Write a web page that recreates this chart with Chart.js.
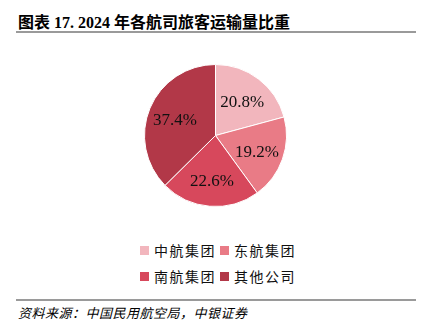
<!DOCTYPE html>
<html>
<head>
<meta charset="utf-8">
<script src="https://cdn.jsdelivr.net/npm/chart.js@4"></script>
<style>
    body { margin: 0; width: 421px; height: 334px; background: #fff; position: relative; overflow: hidden; }
    .title { position: absolute; left: 18px; top: 9px; font: bold 16px "Liberation Serif", "Noto Sans CJK SC", serif; color: #000; white-space: nowrap; }
    .rule { position: absolute; left: 16px; width: 400px; height: 2px; background: #9a9a9a; }
    .source { position: absolute; left: 18px; top: 303px; font: italic 13px "Liberation Serif", "Noto Sans CJK SC", serif; color: #000; letter-spacing: 0.5px; }
    #pieWrap { position: absolute; left: 144px; top: 64px; width: 143px; height: 143px; }
    .legend { position: absolute; left: 140px; top: 237px; font: 14px "Noto Sans CJK SC", serif; color: #111; letter-spacing: 1.5px; }
    .legend-row { height: 26px; display: flex; align-items: center; }
    .legend-item { display: flex; align-items: center; width: 80px; }
    .legend-box { width: 9px; height: 9px; margin-right: 5px; }
</style>
</head>
<body>
<div class="title">图表 17. 2024 年各航司旅客运输量比重</div>
<div class="rule" style="top: 31px;"></div>
<div id="pieWrap"><canvas id="shareChart"></canvas></div>
<div class="legend" id="legend"></div>
<div class="rule" style="top: 299px;"></div>
<div class="source">资料来源：中国民用航空局，中银证券</div>

<script>
const airlines = ['中航集团', '东航集团', '南航集团', '其他公司'];
const shares = [20.8, 19.2, 22.6, 37.4];
const sliceColors = ['#f2b6bd', '#e97b86', '#d7485c', '#b23848'];

// --- HTML legend, two items per row ---
function buildLegend() {
    const box = document.getElementById('legend');
    for (let i = 0; i < airlines.length; i += 2) {
        const row = document.createElement('div');
        row.className = 'legend-row';
        [i, i + 1].forEach(j => {
            if (j >= airlines.length) return;
            row.innerHTML += `<div class="legend-item"><span class="legend-box" style="background:${sliceColors[j]}"></span>${airlines[j]}</div>`;
        });
        box.appendChild(row);
    }
}

// Percent labels inside each slice
const sliceLabels = {
    id: 'sliceLabels',
    afterDatasetsDraw(chart) {
        const ctx = chart.ctx;
        const meta = chart.getDatasetMeta(0);
        ctx.save();
        ctx.font = '17px "Liberation Serif", serif';
        ctx.fillStyle = '#111';
        ctx.textAlign = 'center';
        ctx.textBaseline = 'middle';
        meta.data.forEach((arc, i) => {
            const mid = (arc.startAngle + arc.endAngle) / 2;
            const r = arc.outerRadius * 0.62;
            ctx.fillText(shares[i].toFixed(1) + '%', arc.x + Math.cos(mid) * r, arc.y + Math.sin(mid) * r + 2);
        });
        ctx.restore();
    }
};

buildLegend();

new Chart(document.getElementById('shareChart'), {
    type: 'pie',
    data: {
        labels: airlines,
        datasets: [{
            data: shares,
            backgroundColor: sliceColors,
            borderColor: '#ffffff',
            borderWidth: 1
        }]
    },
    options: {
        responsive: true,
        maintainAspectRatio: false,
        animation: false,
        layout: { padding: 0 },
        plugins: {
            legend: { display: false },
            tooltip: { enabled: false }
        }
    },
    plugins: [sliceLabels]
});
</script>
</body>
</html>
